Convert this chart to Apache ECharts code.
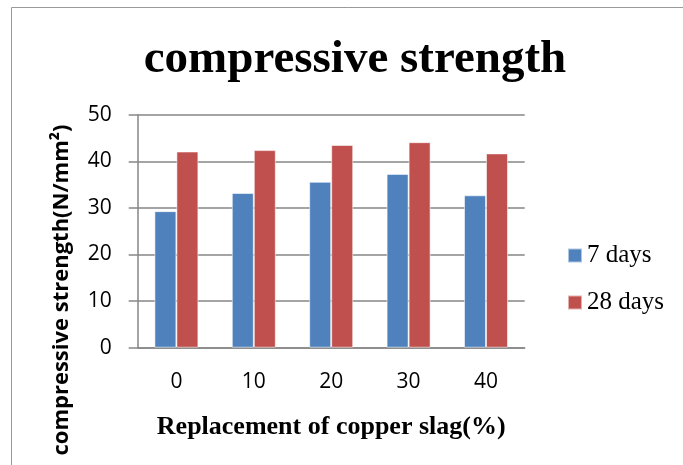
<!DOCTYPE html>
<html>
<head>
<meta charset="utf-8">
<script src="https://cdn.jsdelivr.net/npm/echarts@6/dist/echarts.min.js"></script>
<style>html,body{margin:0;padding:0;background:#fff;}#c{width:683px;height:465px;}</style>
</head>
<body>
<div id="c"></div>
<script>
const categories = ['0', '10', '20', '30', '40'];
const days7 = [29.3, 33.2, 35.6, 37.3, 32.7];
const days28 = [42.1, 42.4, 43.5, 44.1, 41.7];
const seriesNames = ['7 days', '28 days'];
const titleText = 'compressive strength';
const xAxisName = 'Replacement of copper slag(%)';
const yAxisName = 'compressive strength(N/mm²)';

const chart = echarts.init(document.getElementById('c'), null, {renderer: 'canvas'});
const gridColor = '#868686';
chart.setOption({
  animation: false,
  backgroundColor: '#fff',
  title: {
    text: titleText,
    left: 350, top: 31,
    textAlign: 'center',
    textStyle: {fontFamily: 'Liberation Serif', fontWeight: 'bold', fontSize: 47, color: '#000'}
  },
  legend: {
    orient: 'vertical',
    left: 567, top: 243, padding: 0,
    itemWidth: 14, itemHeight: 14, itemGap: 22,
    icon: 'rect',
    textStyle: {fontFamily: 'Liberation Serif', fontSize: 25, color: '#000', lineHeight: 25},
    data: seriesNames
  },
  grid: {left: 137.7, right: 158.3, top: 114.7, bottom: 117.3, containLabel: false},
  xAxis: {
    type: 'category',
    data: categories,
    name: xAxisName,
    nameLocation: 'middle',
    nameGap: 67,
    nameTextStyle: {fontFamily: 'Liberation Serif', fontWeight: 'bold', fontSize: 26, color: '#000'},
    axisLine: {lineStyle: {color: gridColor, width: 1.5}},
    axisTick: {show: false},
    axisLabel: {margin: 24, fontFamily: 'Open Sans', fontSize: 21, color: '#000'}
  },
  yAxis: {
    type: 'value',
    min: 0, max: 50, interval: 10,
    axisLine: {show: true, lineStyle: {color: gridColor, width: 1.5}},
    axisTick: {show: true, inside: false, length: 9, lineStyle: {color: gridColor, width: 1.5}},
    axisLabel: {margin: 26, fontFamily: 'Open Sans', fontSize: 21, color: '#000'},
    splitLine: {lineStyle: {color: gridColor, width: 1.5}}
  },
  graphic: [
    {
      type: 'rect', silent: true,
      shape: {x: 11.5, y: 7.5, width: 720, height: 520},
      style: {fill: 'none', stroke: '#999', lineWidth: 1}
    },
    {
      type: 'text', silent: true,
      x: 62, y: 290, rotation: Math.PI / 2,
      style: {
        text: yAxisName,
        fontFamily: 'Open Sans', fontWeight: 'bold', fontSize: 22, fill: '#000',
        textAlign: 'center', textVerticalAlign: 'middle'
      }
    }
  ],
  series: [
    {
      name: seriesNames[0], type: 'bar', data: days7,
      barWidth: 22, barGap: '0%',
      itemStyle: {color: '#4F81BD', borderColor: 'rgba(255,255,255,0.55)', borderWidth: 1}
    },
    {
      name: seriesNames[1], type: 'bar', data: days28,
      barWidth: 22, barGap: '0%',
      itemStyle: {color: '#C0504D', borderColor: 'rgba(255,255,255,0.55)', borderWidth: 1}
    }
  ]
});
</script>
</body>
</html>
